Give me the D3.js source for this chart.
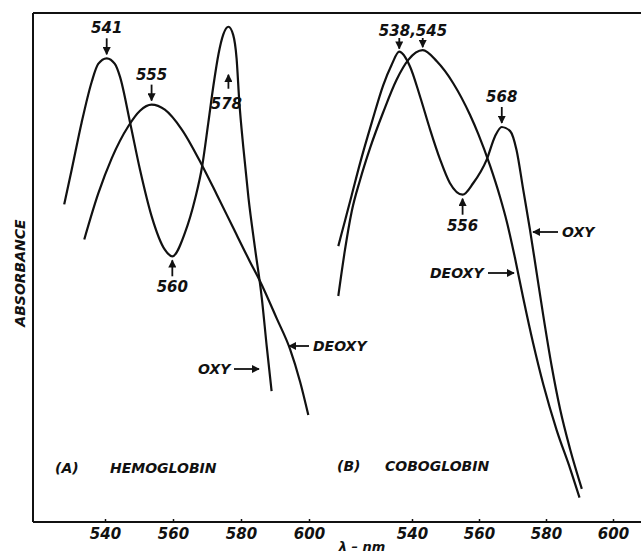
<!DOCTYPE html>
<html>
<head>
<meta charset="utf-8">
<script src="https://cdn.jsdelivr.net/npm/d3@7"></script>
<style>
	body { margin: 0; background: #fff; }
	svg text { font-family: "DejaVu Sans", sans-serif; font-style: italic; font-weight: bold; fill: #111; }
	.curve { fill: none; stroke: #111; stroke-width: 2.2; }
	.frame { stroke: #111; stroke-width: 2; }
	.arrow { stroke: #111; stroke-width: 1.8; }
</style>
</head>
<body>
<div id="chart"></div>
<script>
"use strict";

// Wavelength ticks (nm), same for both panels
var tickValues = [540, 560, 580, 600];

// (A) Hemoglobin, oxy form
var hemoOxyNm = [528.0, 530.2, 533.1, 536.1, 538.0, 540.5, 542.9, 544.4, 547.4, 550.3, 553.7, 557.6, 559.8, 563.5, 566.5, 568.6, 570.4, 571.9, 573.4, 574.8, 576.3, 577.7, 578.7, 579.5, 580.7, 582.2, 584.1, 586.1, 587.6, 589.0];
var hemoOxyAbs = [0.624, 0.692, 0.784, 0.865, 0.900, 0.911, 0.900, 0.875, 0.784, 0.692, 0.601, 0.535, 0.522, 0.568, 0.635, 0.700, 0.785, 0.858, 0.920, 0.958, 0.973, 0.957, 0.911, 0.826, 0.735, 0.637, 0.539, 0.441, 0.343, 0.257];

// (A) Hemoglobin, deoxy form
var hemoDeoxyNm = [533.9, 538.0, 542.0, 546.9, 550.3, 553.7, 557.6, 562.6, 568.6, 572.9, 577.7, 582.6, 585.6, 590.5, 594.4, 597.4, 599.8];
var hemoDeoxyAbs = [0.555, 0.645, 0.715, 0.778, 0.808, 0.820, 0.810, 0.771, 0.700, 0.643, 0.578, 0.512, 0.473, 0.400, 0.340, 0.275, 0.210];

// (B) Coboglobin, oxy form
var cobOxyNm = [518.0, 520.0, 522.0, 524.5, 528.0, 531.4, 533.9, 536.2, 539.4, 542.4, 545.4, 548.4, 551.3, 555.1, 558.3, 562.3, 564.8, 566.8, 569.3, 571.2, 573.2, 575.2, 577.2, 579.2, 581.7, 584.2, 587.2, 590.7];
var cobOxyAbs = [0.542, 0.592, 0.642, 0.705, 0.785, 0.858, 0.898, 0.924, 0.895, 0.836, 0.771, 0.712, 0.666, 0.643, 0.666, 0.712, 0.758, 0.776, 0.768, 0.731, 0.653, 0.575, 0.490, 0.405, 0.306, 0.222, 0.143, 0.065];

// (B) Coboglobin, deoxy form
var cobDeoxyNm = [518.0, 520.0, 522.0, 524.5, 527.5, 531.4, 535.4, 538.9, 543.2, 547.4, 552.3, 557.3, 559.8, 563.3, 566.3, 568.3, 570.7, 573.2, 576.2, 579.2, 583.2, 587.2, 590.0];
var cobDeoxyAbs = [0.444, 0.535, 0.610, 0.672, 0.735, 0.805, 0.869, 0.908, 0.927, 0.905, 0.862, 0.800, 0.762, 0.700, 0.638, 0.590, 0.520, 0.440, 0.350, 0.270, 0.180, 0.105, 0.048];

// Peak / trough annotations
var peakLabels = [
	{panel: "A", nm: 540.5, abs: 0.911, text: "541", dir: "down"},
	{panel: "A", nm: 553.7, abs: 0.820, text: "555", dir: "down"},
	{panel: "A", nm: 559.8, abs: 0.522, text: "560", dir: "up"},
	{panel: "A", nm: 576.3, abs: 0.973, text: "578", dir: "inside"},
	{panel: "B", nm: 555.1, abs: 0.643, text: "556", dir: "up"},
	{panel: "B", nm: 566.8, abs: 0.776, text: "568", dir: "down"}
];

var width = 641,
	height = 553,
	axisLeft = 33,
	axisTop = 13,
	axisBottom = 522;

// Two wavelength scales, one per panel
var xA = d3.scaleLinear().domain([540, 600]).range([105, 309]);
var xB = d3.scaleLinear().domain([540, 600]).range([412, 613]);
var y = d3.scaleLinear().domain([0, 1]).range([axisBottom, axisTop]);

var svg = d3.select("#chart").append("svg")
	.attr("width", width)
	.attr("height", height);

// Frame: left, top and bottom lines
svg.append("line").attr("class", "frame")
	.attr("x1", axisLeft).attr("y1", axisTop).attr("x2", axisLeft).attr("y2", axisBottom);
svg.append("line").attr("class", "frame")
	.attr("x1", axisLeft).attr("y1", axisTop).attr("x2", width).attr("y2", axisTop);
svg.append("line").attr("class", "frame")
	.attr("x1", axisLeft).attr("y1", axisBottom).attr("x2", width).attr("y2", axisBottom);

// x axes (ticks only, the line is drawn above)
[xA, xB].forEach(function (sc) {
	var g = svg.append("g")
		.attr("transform", "translate(0," + axisBottom + ")")
		.call(d3.axisBottom(sc).tickValues(tickValues).tickSizeInner(-3).tickSizeOuter(0).tickPadding(6));
	g.select(".domain").remove();
	g.selectAll(".tick line").attr("stroke", "#111").attr("stroke-width", 1.5);
	g.selectAll(".tick text")
		.attr("font-size", 15)
		.style("font-family", "DejaVu Sans, sans-serif")
		.style("font-style", "italic")
		.style("font-weight", "bold")
		.attr("fill", "#111");
});

// Curves
var line = d3.line()
	.x(function (d) { return d.x; })
	.y(function (d) { return d.y; })
	.curve(d3.curveMonotoneX);

function toPoints(sc, nm, abs) {
	return nm.map(function (v, i) {
		return {x: sc(v), y: y(abs[i])};
	});
}

[
	toPoints(xA, hemoOxyNm, hemoOxyAbs),
	toPoints(xA, hemoDeoxyNm, hemoDeoxyAbs),
	toPoints(xB, cobOxyNm, cobOxyAbs),
	toPoints(xB, cobDeoxyNm, cobDeoxyAbs)
].forEach(function (pts) {
	svg.append("path").attr("class", "curve").attr("d", line(pts));
});

// Arrow head
var defs = svg.append("defs");
defs.append("marker")
	.attr("id", "head")
	.attr("viewBox", "0 0 10 10")
	.attr("refX", 9).attr("refY", 5)
	.attr("markerWidth", 4.5).attr("markerHeight", 4.5)
	.attr("orient", "auto")
	.append("path").attr("d", "M0,0 L10,5 L0,10 z").attr("fill", "#111");

function arrow(x1, y1, x2, y2) {
	svg.append("line").attr("class", "arrow")
		.attr("x1", x1).attr("y1", y1).attr("x2", x2).attr("y2", y2)
		.attr("marker-end", "url(#head)");
}

function label(x, yy, txt, size, anchor) {
	return svg.append("text")
		.attr("x", x).attr("y", yy)
		.attr("font-size", size)
		.attr("text-anchor", anchor || "middle")
		.text(txt);
}

peakLabels.forEach(function (p) {
	var sc = p.panel === "A" ? xA : xB,
		px = sc(p.nm),
		py = y(p.abs);
	if (p.dir === "down") {
		arrow(px, py - 20, px, py - 4);
		label(px, py - 25, p.text, 15);
	} else if (p.dir === "up") {
		arrow(px, py + 20, px, py + 4);
		label(px, py + 36, p.text, 15);
	} else {
		arrow(px, py + 62, px, py + 48);
		label(px - 2, py + 82, p.text, 15);
	}
});

// Double label 538,545 on panel B
label(413, 36, "538,545", 15);
arrow(xB(536.2), 38, xB(536.2), y(0.924) - 3);
arrow(xB(543.2), 38, xB(543.2), y(0.927) - 3);

// OXY / DEOXY tags
label(198, 374, "OXY", 14, "start");
arrow(234, 369, 259, 369);
arrow(309, 346, 289, 346);
label(313, 351, "DEOXY", 14, "start");

arrow(558, 232, 533, 232);
label(562, 237, "OXY", 14, "start");
label(430, 278, "DEOXY", 14, "start");
arrow(488, 273, 514, 273);

// Panel titles
label(55, 473, "(A)", 14, "start");
label(110, 473, "HEMOGLOBIN", 14, "start");
label(337, 471, "(B)", 14, "start");
label(385, 471, "COBOGLOBIN", 14, "start");

// Axis titles
svg.append("text")
	.attr("transform", "translate(25,273) rotate(-90)")
	.attr("font-size", 14)
	.attr("text-anchor", "middle")
	.text("ABSORBANCE");

label(362, 551, "λ – nm", 13);
</script>
</body>
</html>
